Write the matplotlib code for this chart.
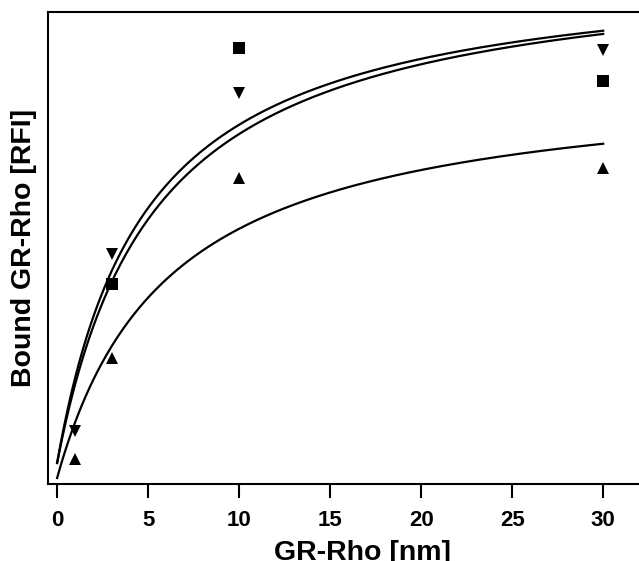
import matplotlib.pyplot as plt
import numpy as np

plt.rcParams['font.family'] = ['Liberation Sans', 'DejaVu Sans']
plt.rcParams['font.weight'] = 'bold'

# GR-Rho concentration [nm]
conc = [1, 3, 10, 30]
conc_sq = [3, 10, 30]

# bound GR-Rho, arbitrary RFI units
bound_square = [200, 436, 403]
bound_down = [53, 230, 391, 434]
bound_up = [25, 126, 306, 316]

# one-site binding fits: offset, Bmax, Kd
fit_offset = [21, 21, 6]
fit_bmax = [502, 506, 403]
fit_kd = [4.84, 5.38, 6.17]

fig = plt.figure(figsize=(6.39, 5.61), dpi=100)
ax = fig.add_axes([48 / 639, 77 / 561, 628 / 639, 472 / 561])

xs = np.linspace(0, 30, 300)
for b0, bmax, kd in zip(fit_offset, fit_bmax, fit_kd):
    ax.plot(xs, b0 + bmax * xs / (kd + xs), color='black', linewidth=1.6)

ax.plot(conc_sq, bound_square, 's', color='black', markersize=8.5, markeredgewidth=0)
ax.plot(conc, bound_down, 'v', color='black', markersize=9, markeredgewidth=0)
ax.plot(conc, bound_up, '^', color='black', markersize=9, markeredgewidth=0)

ax.set_xlim(-0.5, 34)
ax.set_ylim(0, 472)
ax.set_xticks([0, 5, 10, 15, 20, 25, 30])
ax.set_yticks([])
ax.tick_params(axis='x', direction='out', length=10, width=1.5, pad=9, labelsize=16)
for lab in ax.get_xticklabels():
    lab.set_fontweight('bold')
for s in ax.spines.values():
    s.set_linewidth(1.5)

ax.set_xlabel('GR-Rho [nm]', fontsize=20.5, fontweight='bold', labelpad=6)
ax.set_ylabel('Bound GR-Rho [RFI]', fontsize=20.5, fontweight='bold', labelpad=8)

fig.savefig('out.png', dpi=100)
